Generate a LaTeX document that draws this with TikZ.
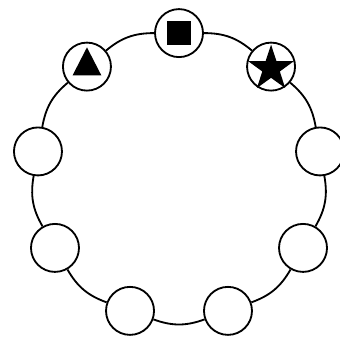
\documentclass[tikz,border=0pt]{standalone}
\usepackage{tikz}
\usetikzlibrary{shapes.geometric}

\begin{document}
\begin{tikzpicture}[spot/.style={draw,circle,fill=white,inner sep=0pt,minimum size=1.2cm,line width=1.3pt},sym/.style={fill=black,inner sep=0pt}]
\useasboundingbox (-4.475,-4.0175) rectangle (4.025,4.4075);
\foreach \i in {0,...,8} \node[spot] (s\i) at ({90+40*\i}:3.58) {};
\foreach \i [evaluate=\i as \j using {int(mod(\i+1,9))}] in {0,...,8}
  \draw[line width=1.3pt] (s\i) to[bend right=20] (s\j);
\node[sym,minimum size=0.6cm] (sq) at (s0) {};
\node[sym,isosceles triangle,isosceles triangle stretches,shape border rotate=90,minimum width=0.72cm,minimum height=0.7cm] (tri) at (s1) {};
\node[sym,star,star points=5,star point ratio=2.6,minimum size=1.2cm,yshift=-0.05cm] (st) at (s8) {};
\end{tikzpicture}
\end{document}
